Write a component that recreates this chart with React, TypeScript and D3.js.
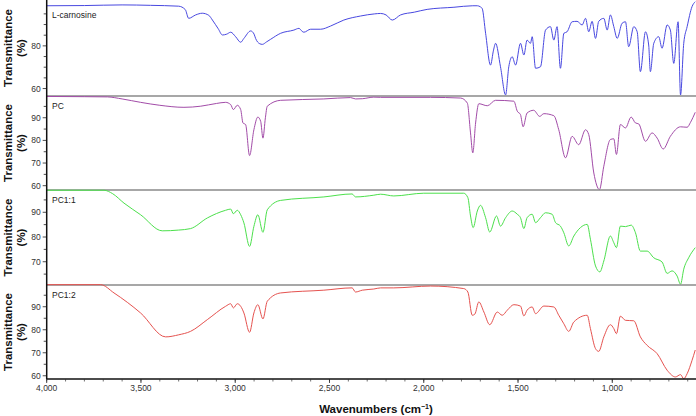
import React from "react";
import * as d3 from "d3";

// FTIR spectra, [wavenumber cm-1, transmittance %]
const carnosine: [number, number][] = [
  [4000, 98.8], [3800, 98.9], [3600, 99.2], [3450, 99.0], [3300, 98.6], [3265, 97], [3247, 92.9],
  [3210, 94.5], [3175, 95.3], [3140, 94.3], [3121, 92.1], [3090, 88], [3068, 85.1], [3045, 85.5],
  [3024, 86.4], [2998, 84.3], [2971, 81.7], [2954, 83.5], [2918, 87], [2900, 85.5], [2892, 83.5],
  [2870, 81], [2856, 80.7], [2835, 81.8], [2812, 83.1], [2759, 85.9], [2689, 87.4], [2662, 88.2],
  [2645, 86.8], [2636, 86.4], [2600, 87.8], [2547, 87.8], [2494, 89.3], [2424, 92.1], [2335, 94],
  [2260, 95], [2229, 95.2], [2200, 94.5], [2167, 92.1], [2123, 94.5], [2050, 95.8], [1982, 97.1],
  [1840, 98.1], [1740, 98.8], [1716, 98.8], [1700, 98.3], [1690, 97.5], [1672, 85.9], [1646, 71],
  [1630, 78], [1619, 81.2], [1593, 70.2], [1566, 57], [1549, 70.2], [1531, 74.9], [1513, 71],
  [1487, 81.2], [1469, 75.7], [1452, 82.7], [1434, 81.2], [1425, 84.3], [1407, 69.5], [1381, 70.2],
  [1354, 87.4], [1328, 89], [1310, 82.7], [1293, 89], [1275, 69.5], [1257, 85.9], [1240, 86.6],
  [1213, 91.3], [1187, 91.5], [1160, 89.8], [1142, 92.9], [1125, 86.6], [1107, 91.5], [1089, 83.5],
  [1072, 91.5], [1045, 92.9], [1027, 87.4], [1010, 94.5], [992, 89], [974, 83.5], [948, 90.6],
  [930, 91.3], [913, 79.6], [886, 89], [868, 86.6], [851, 67.9], [824, 86.6], [807, 80.4],
  [798, 67.9], [780, 81.2], [754, 84.3], [736, 78.9], [709, 89.8], [692, 87.4], [674, 71.8],
  [651, 91.3], [638, 57], [621, 81.2], [603, 89], [577, 98.4], [560, 100.7],
];

const pc: [number, number][] = [
  [4000, 99.4], [3800, 99.3], [3678, 99.2], [3600, 98.3], [3502, 96.8], [3400, 95.5], [3272, 94.6],
  [3183, 95.1], [3100, 96.3], [3051, 96.8], [3024, 95.8], [3010, 93.6], [2989, 95.5], [2971, 93.6],
  [2959, 87.7], [2945, 87], [2924, 73.3], [2901, 84.7], [2880, 90.3], [2865, 88.4], [2853, 81],
  [2840, 90], [2830, 95.1], [2759, 97.7], [2530, 98.3], [2388, 98.9], [2362, 98.3], [2326, 98.4],
  [2265, 99.1], [2229, 99], [1964, 99], [1805, 98.7], [1769, 96.5], [1752, 83.3], [1740, 74.5],
  [1725, 87.7], [1708, 96.2], [1663, 95.3], [1619, 97.7], [1522, 97.3], [1504, 92.9], [1487, 91.4],
  [1473, 86], [1452, 92.1], [1417, 93.3], [1385, 90.6], [1363, 91.8], [1310, 90.9], [1284, 84.7],
  [1248, 72.3], [1213, 81.8], [1178, 78.1], [1142, 84.7], [1125, 82.6], [1098, 65.6], [1068, 58.3],
  [1045, 68.6], [1010, 80.4], [992, 80.7], [978, 73.8], [957, 87], [930, 85.5], [900, 90.3],
  [877, 87.7], [860, 87.3], [824, 79.6], [789, 83.3], [762, 81], [730, 76.2], [692, 81.8],
  [638, 86], [603, 85.8], [585, 88], [560, 92.4],
];

const pc11: [number, number][] = [
  [4000, 98.9], [3696, 98.9], [3650, 97.5], [3590, 93.7], [3502, 89], [3387, 82.5], [3300, 82.8],
  [3237, 83.4], [3148, 87.7], [3051, 90.8], [3024, 91.3], [3010, 89.4], [2989, 90.8], [2971, 89],
  [2954, 85.7], [2924, 76.2], [2901, 84.3], [2880, 89], [2853, 81.9], [2830, 91], [2759, 94.8],
  [2530, 96.2], [2380, 97.4], [2362, 96.2], [2265, 96.9], [2229, 97.3], [2159, 96.6], [2000, 97.7],
  [1788, 97.7], [1766, 95.9], [1752, 88.5], [1738, 83.8], [1716, 90.5], [1699, 92.8], [1672, 87.8],
  [1650, 82], [1614, 88.5], [1593, 84.4], [1566, 87.8], [1531, 90.5], [1504, 89.2], [1487, 87.8],
  [1469, 83.4], [1452, 87.8], [1425, 89.2], [1407, 85.8], [1381, 87.8], [1354, 89.8], [1319, 89.2],
  [1301, 85.8], [1275, 84.4], [1257, 81.7], [1231, 76.4], [1204, 80.4], [1169, 83.8], [1133, 85.1],
  [1116, 79.1], [1089, 68.3], [1066, 65.9], [1045, 70.3], [1010, 80.4], [992, 77.7], [978, 75.7],
  [957, 84.4], [930, 84.2], [900, 84.8], [877, 81.7], [851, 74.3], [815, 74.3], [780, 71.6],
  [736, 69.9], [709, 65.3], [683, 66.3], [656, 64.2], [638, 60.9], [621, 67], [595, 71.6], [560, 75.7],
];

const pc12: [number, number][] = [
  [4000, 99.6], [3714, 99.6], [3643, 96], [3502, 87.3], [3369, 76.9], [3300, 77.8], [3237, 79.3],
  [3148, 84.4], [3051, 90.2], [3024, 91.3], [3010, 89.5], [2989, 91.3], [2971, 90.2], [2954, 87.3],
  [2924, 78.9], [2901, 87.3], [2880, 90.9], [2853, 84.7], [2830, 92.4], [2759, 96], [2530, 97.2],
  [2380, 98.2], [2362, 96.4], [2326, 97.2], [2265, 97.7], [2229, 98.2], [2159, 98.2], [1964, 99],
  [1788, 97.9], [1766, 96.4], [1743, 86.3], [1729, 86.8], [1708, 92.1], [1681, 87.7], [1650, 82.2],
  [1610, 87.7], [1584, 86.3], [1557, 88.5], [1522, 90.9], [1487, 90.3], [1469, 86], [1452, 88.5],
  [1425, 89.9], [1407, 87], [1363, 90.3], [1310, 89.9], [1284, 86.3], [1257, 82.6], [1231, 79.3],
  [1204, 83.4], [1133, 86.3], [1116, 80.5], [1089, 71.8], [1072, 70.6], [1045, 76.9], [1010, 82.2],
  [992, 80.5], [978, 78.3], [957, 85.9], [930, 84.1], [886, 83.9], [851, 76.9], [815, 73.2],
  [762, 69.6], [709, 62.4], [665, 59.5], [638, 60.5], [621, 58.7], [603, 60.9], [577, 66.7], [560, 71.2],
];

const xTicks = [4000, 3500, 3000, 2500, 2000, 1500, 1000];

const panels = [
  { name: "L-carnosine", data: carnosine, color: "#4848e0", domain: [56.5, 101.5], top: 0, bottom: 96,
    ticks: [60, 65, 70, 75, 80, 85, 90, 95], labels: [60, 80] },
  { name: "PC", data: pc, color: "#a24ca8", domain: [58.1, 99.6], top: 96, bottom: 190,
    ticks: [60, 65, 70, 75, 80, 85, 90, 95], labels: [60, 70, 80, 90] },
  { name: "PC1:1", data: pc11, color: "#4ce04c", domain: [60.6, 99.0], top: 190, bottom: 285,
    ticks: [65, 70, 75, 80, 85, 90, 95], labels: [70, 80, 90] },
  { name: "PC1:2", data: pc12, color: "#e5524f", domain: [58.6, 99.45], top: 285, bottom: 379,
    ticks: [60, 65, 70, 75, 80, 85, 90, 95], labels: [60, 70, 80, 90] },
];

const W = 696;
const H = 416;
const left = 46.7;
const axisY = 379;
const font = "Arial, 'Liberation Sans', sans-serif";

export default function App() {
  const x = d3.scaleLinear().domain([4000, 556]).range([left, W]);
  const minor = d3.range(4000, 556, -100);

  return (
    <div style={{ position: "absolute", left: 0, top: 0 }}>
      <svg width={W} height={H} style={{ display: "block", background: "#fff" }} fontFamily={font}>
        {panels.map((p, i) => {
          const y = d3.scaleLinear().domain(p.domain).range([p.bottom, p.top]);
          const line = d3
            .line<[number, number]>()
            .x((d) => x(d[0]))
            .y((d) => y(d[1]))
            .curve(d3.curveMonotoneX);
          const cy = (p.top + p.bottom) / 2;
          return (
            <g key={p.name}>
              {i > 0 && (
                <line x1={left} x2={W} y1={p.top} y2={p.top} stroke="#8a8a8a" strokeWidth={1.5} />
              )}
              <path d={line(p.data) ?? ""} fill="none" stroke={p.color} strokeWidth={1} />
              {p.ticks.map((t) => (
                <line key={t} x1={left - (p.labels.includes(t) ? 4 : 3)} x2={left}
                  y1={y(t)} y2={y(t)} stroke="#222" strokeWidth={0.8} />
              ))}
              {p.labels.map((t) => (
                <text key={"l" + t} x={left - 6} y={y(t)} dy="0.35em" textAnchor="end"
                  fontSize={8.5} fill="#333">{t}</text>
              ))}
              <text x={52} y={p.top + (i === 0 ? 18 : 13)} fontSize={8.5} fill="#222">{p.name}</text>
              <text transform={`translate(11.5,${cy}) rotate(-90)`} textAnchor="middle"
                fontSize={11.5} fontWeight="bold" fill="#111">Transmittance</text>
              <text transform={`translate(25,${cy}) rotate(-90)`} textAnchor="middle"
                fontSize={11.5} fontWeight="bold" fill="#111">(%)</text>
            </g>
          );
        })}
        <line x1={left} x2={left} y1={0} y2={axisY} stroke="#111" strokeWidth={1.5} />
        <line x1={left} x2={W} y1={axisY} y2={axisY} stroke="#111" strokeWidth={1.5} />
        {minor.map((t) => (
          <line key={"m" + t} x1={x(t)} x2={x(t)} y1={axisY} y2={axisY + 2.5} stroke="#333" strokeWidth={0.7} />
        ))}
        {xTicks.map((t) => (
          <g key={t}>
            <line x1={x(t)} x2={x(t)} y1={axisY} y2={axisY + 4} stroke="#222" strokeWidth={0.8} />
            <text x={x(t)} y={391} textAnchor="middle" fontSize={8.5} fill="#333">
              {d3.format(",")(t)}
            </text>
          </g>
        ))}
        <text x={376} y={413} textAnchor="middle" fontSize={11.5} fontWeight="bold" fill="#111">
          Wavenumbers (cm<tspan fontSize={7} dy={-4}>−1</tspan><tspan dy={4}>)</tspan>
        </text>
      </svg>
    </div>
  );
}
